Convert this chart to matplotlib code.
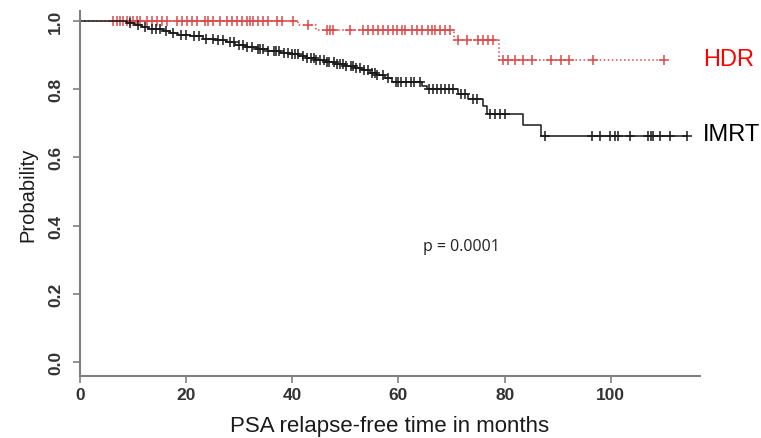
import numpy as np
import matplotlib
matplotlib.use("Agg")
import matplotlib.pyplot as plt

# HDR arm: step times (months) and survival level after each step
hdr_event_times = [41.0, 44.5, 70.5, 79.0]
hdr_levels = [1.0, 0.988, 0.972, 0.945, 0.884]
hdr_censor = [6.2, 7.0, 7.5, 8.1, 8.9, 9.4, 10.0, 10.7, 11.3, 12.6, 13.6, 14.5,
              15.4, 16.4, 18.3, 19.2, 20.2, 21.1, 22.0, 23.5, 24.1, 25.0, 26.4,
              27.7, 28.6, 29.6, 30.5, 31.4, 32.0, 32.6, 33.5, 34.5, 35.4, 37.1,
              38.0, 40.1, 43.0, 46.5, 47.1, 47.6, 50.8, 53.3, 54.2, 55.2, 56.1,
              57.1, 58.0, 58.9, 59.7, 60.6, 61.2, 62.5, 63.5, 64.4, 65.5, 66.3,
              66.9, 67.8, 68.7, 69.7, 71.2, 72.9, 75.0, 75.9, 76.8, 77.8, 79.7,
              80.6, 81.9, 83.4, 85.1, 88.8, 90.7, 92.1, 96.6, 110.1]

# IMRT arm
imrt_event_times = [8.9, 10.4, 11.7, 12.8, 15.6, 16.9, 18.5, 20.7, 23.2, 25.4,
                    27.5, 29.2, 31.1, 33.5, 35.4, 37.7, 39.5, 41.1, 42.6, 44.3,
                    46.1, 48.0, 49.9, 51.8, 53.1, 54.6, 55.9, 57.4, 58.8, 64.4,
                    65.3, 71.2, 73.1, 75.9, 76.6, 83.4, 86.8]
imrt_levels = [1.0, 0.994, 0.988, 0.982, 0.977, 0.970, 0.965, 0.960, 0.955,
               0.948, 0.943, 0.937, 0.930, 0.925, 0.919, 0.913, 0.907, 0.902,
               0.896, 0.890, 0.885, 0.879, 0.873, 0.867, 0.861, 0.855, 0.848,
               0.841, 0.834, 0.821, 0.810, 0.801, 0.786, 0.771, 0.751, 0.727,
               0.695, 0.663]
imrt_censor = [9.5, 11.0, 12.2, 13.5, 14.3, 15.0, 16.2, 17.5, 19.0, 20.0, 21.5,
               22.5, 23.8, 25.0, 26.0, 27.0, 28.2, 29.0, 30.0, 30.8, 31.5, 32.5,
               33.5, 34.0, 34.5, 35.5, 36.5, 37.0, 37.5, 38.5, 39.2, 40.0, 40.5,
               41.0, 42.0, 42.8, 43.5, 44.0, 44.5, 45.2, 46.0, 46.5, 47.0, 47.8,
               48.5, 49.0, 49.5, 50.2, 51.0, 51.5, 52.0, 52.8, 53.5, 54.3, 55.0,
               55.5, 56.0, 57.0, 58.0, 59.5, 60.0, 60.5, 61.5, 62.3, 63.0, 64.0,
               65.8, 66.5, 67.3, 68.0, 68.8, 69.5, 70.3, 71.8, 72.5, 74.0, 74.8,
               77.2, 78.2, 79.1, 80.0, 87.6, 96.4, 97.9, 99.8, 100.8, 101.3,
               103.6, 107.0, 107.5, 107.9, 109.2, 111.1, 114.3]

x_ticks = [0, 20, 40, 60, 80, 100]
y_ticks = [0.0, 0.2, 0.4, 0.6, 0.8, 1.0]


def km_curve(event_times, levels, censor):
    """Build step coordinates and censor mark heights."""
    end = max(censor)
    xs = np.concatenate([[0.0], event_times, [end]])
    ys = np.concatenate([levels, [levels[-1]]])
    idx = np.searchsorted(event_times, censor, side="right")
    cy = np.asarray(levels)[idx]
    return xs, ys, np.asarray(censor), cy


fig = plt.figure(figsize=(7.61, 4.39), dpi=100)
ax = fig.add_axes([0.1051, 0.1412, 0.8147, 0.8314])

red = "#dc4a4a"
black = "#1a1a1a"

# HDR - dotted red
xs, ys, cx, cy = km_curve(hdr_event_times, hdr_levels, hdr_censor)
ax.step(xs, ys, where="post", color=red, linestyle=":", linewidth=1.1)
ax.plot(cx, cy, "+", color=red, markersize=6.5, markeredgewidth=1.1)

# IMRT - solid black
xs, ys, cx, cy = km_curve(imrt_event_times, imrt_levels, imrt_censor)
ax.step(xs, ys, where="post", color=black, linestyle="-", linewidth=1.1)
ax.plot(cx, cy, "+", color=black, markersize=6.5, markeredgewidth=1.1)

ax.set_xlim(0, 116.8)
ax.set_ylim(-0.041, 1.029)

# R-style axes
for side in ["top", "right"]:
    ax.spines[side].set_visible(False)
for side in ["left", "bottom"]:
    ax.spines[side].set_color("#808080")
    ax.spines[side].set_linewidth(1.5)

ax.set_xticks(x_ticks)
ax.set_xticklabels([str(t) for t in x_ticks])
ax.set_yticks(y_ticks)
ax.set_yticklabels([f"{t:.1f}" for t in y_ticks], rotation=90, va="center")
ax.tick_params(axis="both", direction="out", length=5, width=1.2,
               color="#808080", labelcolor="#333333", labelsize=12.5)
for lab in ax.get_xticklabels() + ax.get_yticklabels():
    lab.set_fontfamily("Liberation Sans")
    lab.set_fontweight("bold")
ax.tick_params(axis="x", pad=3)
ax.tick_params(axis="y", pad=7)

ax.set_xlabel("PSA relapse-free time in months", fontsize=16,
              family="Liberation Sans", color="#1a1a1a", labelpad=9)
ax.set_ylabel("Probability", fontsize=14.5, family="Liberation Sans",
              color="#1a1a1a", labelpad=8)

# Group labels and p-value
fig.text(703 / 761, 1 - 60 / 439, "HDR", color="#ff0000", fontsize=17,
         family="Liberation Sans", va="center", ha="left")
fig.text(703 / 761, 1 - 135 / 439, "IMRT", color="#000000", fontsize=17,
         family="Liberation Sans", va="center", ha="left")
fig.text(423 / 761, 1 - 247 / 439, "p = 0.0001", color="#222222", fontsize=11.5,
         family="Open Sans", va="center", ha="left")

fig.savefig("out.png", dpi=100)
